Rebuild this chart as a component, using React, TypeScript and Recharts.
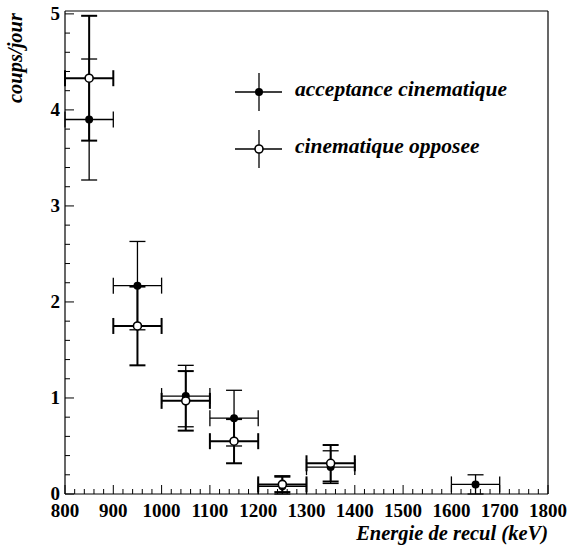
import { ComposedChart, Scatter, ErrorBar, XAxis, YAxis, ReferenceLine } from "recharts"

// bin centres (keV) and rates (coups/jour)
const energies = [850, 950, 1050, 1150, 1250, 1350, 1650]
const acceptance = [3.9, 2.17, 1.02, 0.79, 0.08, 0.28, 0.1]
const acceptanceErr = [0.63, 0.46, 0.32, 0.29, 0.11, 0.17, 0.1]

const opposeeEnergies = [850, 950, 1050, 1150, 1250, 1350]
const opposee = [4.33, 1.75, 0.97, 0.55, 0.1, 0.32]
const opposeeErr = [0.65, 0.41, 0.31, 0.23, 0.08, 0.19]

const binHalfWidth = 50

const xMajorTicks = [800, 900, 1000, 1100, 1200, 1300, 1400, 1500, 1600, 1700, 1800]
const yMajorTicks = [0, 1, 2, 3, 4, 5]
const yMax = 5.03

const FONT = "'Liberation Serif', 'Times New Roman', serif"
const PLOT_LEFT = 65
const PLOT_BOTTOM = 494

const xTicks = xMajorTicks.flatMap((t, i) =>
  i < xMajorTicks.length - 1 ? [t, t + 20, t + 40, t + 60, t + 80] : [t]
)
const yTicks = yMajorTicks.flatMap((t, i) =>
  i < yMajorTicks.length - 1
    ? [t, Math.round((t + 0.2) * 10) / 10, Math.round((t + 0.4) * 10) / 10, Math.round((t + 0.6) * 10) / 10, Math.round((t + 0.8) * 10) / 10]
    : [t]
)

const toPoints = (xs: number[], ys: number[], errs: number[]) =>
  xs.map((x, i) => ({
    x,
    y: ys[i],
    ey: [Math.min(ys[i], errs[i]), errs[i]],
    ex: binHalfWidth,
  }))

const acceptanceData = toPoints(energies, acceptance, acceptanceErr)
const opposeeData = toPoints(opposeeEnergies, opposee, opposeeErr)

const tickText = { fontFamily: FONT, fontWeight: 700, fontSize: 19, fill: "#000" }

function XTick(props: any) {
  const { x, payload } = props
  const major = xMajorTicks.includes(payload.value)
  return (
    <g>
      <line x1={x} x2={x} y1={PLOT_BOTTOM} y2={PLOT_BOTTOM - (major ? 9 : 5)} stroke="#000" strokeWidth={1} />
      {major && (
        <text x={x} y={PLOT_BOTTOM + 23} textAnchor="middle" style={tickText}>
          {payload.value}
        </text>
      )}
    </g>
  )
}

function YTick(props: any) {
  const { y, payload } = props
  const major = yMajorTicks.includes(payload.value)
  return (
    <g>
      <line x1={PLOT_LEFT} x2={PLOT_LEFT + (major ? 9 : 5)} y1={y} y2={y} stroke="#000" strokeWidth={1} />
      {major && (
        <text x={PLOT_LEFT - 5} y={y + 6} textAnchor="end" style={tickText}>
          {payload.value}
        </text>
      )}
    </g>
  )
}

const FilledDot = (p: any) => <circle cx={p.cx} cy={p.cy} r={4} fill="#000" />
const OpenDot = (p: any) => <circle cx={p.cx} cy={p.cy} r={4} fill="#fff" stroke="#000" strokeWidth={1.6} />

function Overlay() {
  const label = { fontFamily: FONT, fontWeight: 700, fontStyle: "italic", fontSize: 20.5, fill: "#000" } as const
  const legend = { ...label, fontSize: 21.5 }
  return (
    <svg width={569} height={545} style={{ position: "absolute", left: 0, top: 0, pointerEvents: "none" }}>
      <text style={label} x={22} y={13} textAnchor="end" transform="rotate(-90 22 13)">coups/jour</text>
      <text style={label} x={548} y={540} textAnchor="end">Energie de recul (keV)</text>

      <line x1={235} x2={282} y1={92} y2={92} stroke="#000" strokeWidth={1.3} />
      <line x1={259} x2={259} y1={73} y2={111} stroke="#000" strokeWidth={1.3} />
      <circle cx={259} cy={92} r={4} fill="#000" />
      <text style={legend} x={295} y={96}>acceptance cinematique</text>

      <line x1={235} x2={282} y1={149} y2={149} stroke="#000" strokeWidth={1.3} />
      <line x1={259} x2={259} y1={130} y2={168} stroke="#000" strokeWidth={1.3} />
      <circle cx={259} cy={149} r={4} fill="#fff" stroke="#000" strokeWidth={1.6} />
      <text style={legend} x={295} y={153}>cinematique opposee</text>
    </svg>
  )
}

export default function App() {
  return (
    <div style={{ position: "absolute", left: 0, top: 0, width: 569, height: 545, background: "#fff" }}>
      <ComposedChart width={569} height={545} margin={{ top: 11, right: 21, bottom: 0, left: 0 }}>
        <XAxis
          type="number"
          dataKey="x"
          domain={[800, 1800]}
          ticks={xTicks}
          interval={0}
          height={51}
          tickLine={false}
          tickSize={0}
          axisLine={{ stroke: "#000", strokeWidth: 1.2 }}
          tick={<XTick />}
        />
        <YAxis
          type="number"
          dataKey="y"
          domain={[0, yMax]}
          ticks={yTicks}
          interval={0}
          width={65}
          tickLine={false}
          tickSize={0}
          axisLine={{ stroke: "#000", strokeWidth: 1.2 }}
          tick={<YTick />}
        />
        <ReferenceLine y={yMax} stroke="#000" strokeWidth={1.2} />
        <ReferenceLine x={1800} stroke="#000" strokeWidth={1.2} />
        <Scatter data={acceptanceData} dataKey="y" shape={FilledDot} isAnimationActive={false}>
          <ErrorBar dataKey="ey" direction="y" width={8} stroke="#000" strokeWidth={1.3} isAnimationActive={false} />
          <ErrorBar dataKey="ex" direction="x" width={8} stroke="#000" strokeWidth={1.3} isAnimationActive={false} />
        </Scatter>
        <Scatter data={opposeeData} dataKey="y" shape={OpenDot} isAnimationActive={false}>
          <ErrorBar dataKey="ey" direction="y" width={8} stroke="#000" strokeWidth={2} isAnimationActive={false} />
          <ErrorBar dataKey="ex" direction="x" width={8} stroke="#000" strokeWidth={2} isAnimationActive={false} />
        </Scatter>
      </ComposedChart>
      <Overlay />
    </div>
  )
}
